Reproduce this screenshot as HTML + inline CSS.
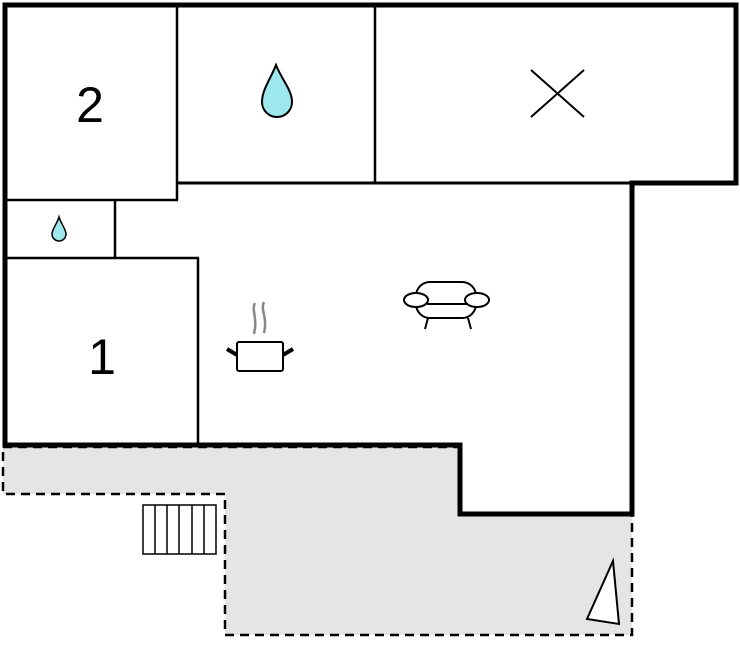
<!DOCTYPE html><html><head><style>body{margin:0;background:#fff}svg{display:block}</style></head><body>
<svg width="740" height="652" viewBox="0 0 740 652" xmlns="http://www.w3.org/2000/svg">
<polygon points="3,447 460,447 460,514 632,514 632,635 225,635 225,494 3,494" fill="#e5e5e5" stroke="#000" stroke-width="2.5" stroke-dasharray="9,6"/>
<polygon points="5,5 736,5 736,183 632,183 632,514 460,514 460,445 5,445" fill="#fff" stroke="#000" stroke-width="5"/>
<g stroke="#000" stroke-width="2.5" fill="none">
<line x1="177" y1="5" x2="177" y2="200"/>
<line x1="375" y1="5" x2="375" y2="183"/>
<line x1="177" y1="183" x2="632" y2="183" stroke-width="3"/>
<line x1="5" y1="200" x2="178" y2="200"/>
<line x1="5" y1="258" x2="199" y2="258"/>
<line x1="115" y1="200" x2="115" y2="258"/>
<line x1="198" y1="258" x2="198" y2="445"/>
<line x1="531" y1="70" x2="584" y2="117" stroke-width="2"/>
<line x1="584" y1="70" x2="531" y2="117" stroke-width="2"/>
</g>
<text x="90" y="122" font-family="Liberation Sans, sans-serif" font-size="50" text-anchor="middle">2</text>
<text x="102" y="374" font-family="Liberation Sans, sans-serif" font-size="50" text-anchor="middle">1</text>
<path d="M276,65 C282,80 292,90 292,102 A15,15 0 0 1 262,102 C262,90 270,80 276,65Z" fill="#9de8ec" stroke="#000" stroke-width="2"/>
<path d="M59,217 C61,224 66,229 66,234 A7,7 0 0 1 52,234 C52,229 57,224 59,217Z" fill="#9de8ec" stroke="#000" stroke-width="1.5"/>
<g fill="none" stroke="#888" stroke-width="2.5"><path d="M255,303 C251,310 258,318 254,334"/><path d="M264,302 C260,310 268,318 264,333"/></g>
<rect x="237" y="342" width="46" height="29" rx="2" fill="#fff" stroke="#000" stroke-width="2"/>
<g stroke="#000" stroke-width="4"><line x1="227" y1="349" x2="237" y2="355"/><line x1="283" y1="355" x2="293" y2="349"/></g>
<g fill="#fff" stroke="#000" stroke-width="2">
<rect x="416" y="282" width="60" height="36" rx="14"/>
<ellipse cx="416" cy="300" rx="12" ry="7"/><ellipse cx="477" cy="300" rx="12" ry="7"/>
<line x1="427" y1="304" x2="467" y2="304"/>
<line x1="428" y1="318" x2="425" y2="329"/><line x1="468" y1="318" x2="471" y2="329"/>
</g>
<g fill="#fff" stroke="#000" stroke-width="1.5"><rect x="143" y="505" width="73" height="49"/>
<line x1="155" y1="505" x2="155" y2="554"/><line x1="167" y1="505" x2="167" y2="554"/><line x1="179" y1="505" x2="179" y2="554"/><line x1="192" y1="505" x2="192" y2="554"/><line x1="204" y1="505" x2="204" y2="554"/></g>
<polygon points="613,561 619,624 587,619" fill="#fff" stroke="#000" stroke-width="2"/>
</svg></body></html>
